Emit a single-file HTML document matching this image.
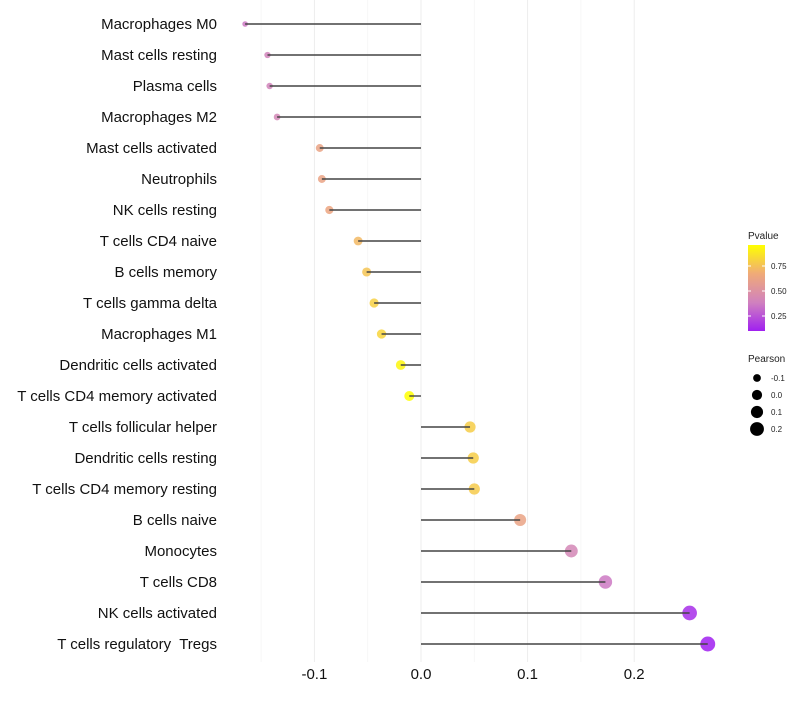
<!DOCTYPE html>
<html><head><meta charset="utf-8"><style>
body{margin:0;background:#fff;font-family:"Liberation Sans",sans-serif}
</style></head><body>
<svg id="c" width="800" height="700" xmlns="http://www.w3.org/2000/svg"></svg>
<script>
const categories=["Macrophages M0","Mast cells resting","Plasma cells","Macrophages M2","Mast cells activated","Neutrophils","NK cells resting","T cells CD4 naive","B cells memory","T cells gamma delta","Macrophages M1","Dendritic cells activated","T cells CD4 memory activated","T cells follicular helper","Dendritic cells resting","T cells CD4 memory resting","B cells naive","Monocytes","T cells CD8","NK cells activated","T cells regulatory  Tregs"];
const pearson=[-0.165,-0.144,-0.142,-0.135,-0.095,-0.093,-0.086,-0.059,-0.051,-0.044,-0.037,-0.019,-0.011,0.046,0.049,0.050,0.093,0.141,0.173,0.252,0.269];
const pvalues=[0.36,0.4,0.4,0.42,0.62,0.62,0.64,0.72,0.76,0.8,0.82,0.93,0.96,0.79,0.79,0.78,0.62,0.42,0.36,0.14,0.1];
const xTicks=[-0.1,0,0.1,0.2];
const xTickLabels=["-0.1","0.0","0.1","0.2"];
const minorTicks=[-0.15,-0.05,0.05,0.15];
const legendP=[0.75,0.5,0.25];
const legendR=[-0.1,0,0.1,0.2];

const svg=document.getElementById('c');const NS="http://www.w3.org/2000/svg";
function el(t,a,p){const e=document.createElementNS(NS,t);for(const k in a)e.setAttribute(k,a[k]);(p||svg).appendChild(e);return e;}
const x=v=>421+v*1066;
const y=i=>24+i*31;
const rad=v=>Math.sqrt(Math.max(4,26+110*v));
function col(p){const t=Math.max(0,Math.min(1,(p-0.1)/0.86));
 const stops=[[160,32,240],[208,130,190],[240,170,120],[255,255,0]];
 const s=t*3,i=Math.min(2,Math.floor(s)),f=s-i;const a=stops[i],b=stops[i+1];
 return `rgb(${a.map((v,k)=>Math.round(v+(b[k]-v)*f)).join(',')})`;}
minorTicks.forEach(v=>{const g=el('line',{x1:x(v),x2:x(v),y1:0,y2:662,stroke:'#f4f4f4','stroke-width':0.8});
});
xTicks.forEach((v,i)=>{const g=el('line',{x1:x(v),x2:x(v),y1:0,y2:662,stroke:'#ededed','stroke-width':1});

const t=el('text',{x:x(v),y:679,'text-anchor':'middle','font-size':15,fill:'#111'});t.textContent=xTickLabels[i];
});
categories.forEach((c,i)=>{const t=el('text',{x:217,y:y(i)+5,'text-anchor':'end','font-size':15,fill:'#111'});t.textContent=c;
t.setAttribute('xml:space','preserve');t.style.whiteSpace='pre';

const p=el('circle',{cx:x(pearson[i]),cy:y(i),r:rad(pearson[i]),fill:col(pvalues[i]),opacity:0.85});

const l=el('line',{x1:x(0),x2:x(pearson[i]),y1:y(i),y2:y(i),stroke:'#444','stroke-width':1.4});
});
const lt=el('text',{x:748,y:239,'font-size':10,fill:'#222'});lt.textContent='Pvalue';

const defs=el('defs',{});const gr=el('linearGradient',{id:'g',x1:0,y1:1,x2:0,y2:0},defs);
[0,0.33,0.67,1].forEach(o=>el('stop',{offset:o,'stop-color':col(0.1+o*0.86)},gr));
const bar=el('rect',{x:748,y:245,width:17,height:86,fill:'url(#g)'});

legendP.forEach(v=>{const yy=341-v*100;
el('line',{x1:748,x2:751,y1:yy,y2:yy,stroke:'#fff'});el('line',{x1:762,x2:765,y1:yy,y2:yy,stroke:'#fff'});
const t=el('text',{x:771,y:yy+3,'font-size':8,fill:'#222'});t.textContent=v.toFixed(2);
});
const pt=el('text',{x:748,y:362,'font-size':10,fill:'#222'});pt.textContent='Pearson';

legendR.forEach((v,i)=>{const yy=378+i*17;
const c=el('circle',{cx:757,cy:yy,r:rad(v),fill:'#000'});

const t=el('text',{x:771,y:yy+3,'font-size':8,fill:'#222'});t.textContent=v===0?'0.0':String(v);
});
</script>
</body></html>
